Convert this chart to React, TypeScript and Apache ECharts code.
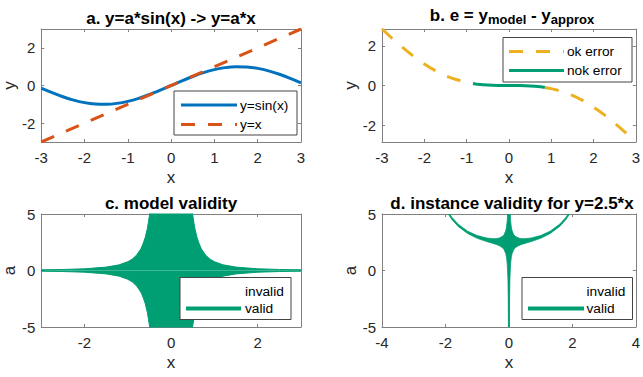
import React, { useEffect, useRef } from 'react';
import * as echarts from 'echarts';

// ---------- data ----------
// a. y = a*sin(x) -> y = a*x
const sinX = [-3, -2.75, -2.5, -2.25, -2, -1.75, -1.5, -1.25, -1, -0.75, -0.5, -0.25, 0, 0.25, 0.5, 0.75, 1, 1.25, 1.5, 1.75, 2, 2.25, 2.5, 2.75, 3];
const sinY = [-0.141, -0.382, -0.598, -0.778, -0.909, -0.984, -0.997, -0.949, -0.841, -0.682, -0.479, -0.247, 0, 0.247, 0.479, 0.682, 0.841, 0.949, 0.997, 0.984, 0.909, 0.778, 0.598, 0.382, 0.141];
const linX = [-3, 3];
const linY = [-3, 3];

// b. error e = y_model - y_approx
const okLeftX = [-3, -2.75, -2.5, -2.25, -2, -1.75, -1.5, -1.25, -1, -0.85];
const okLeftY = [2.859, 2.368, 1.902, 1.472, 1.091, 0.766, 0.503, 0.301, 0.159, 0.099];
const nokX = [-0.85, -0.75, -0.5, -0.25, 0, 0.25, 0.5, 0.75, 0.85];
const nokY = [0.099, 0.068, 0.021, 0.003, 0, -0.003, -0.021, -0.068, -0.099];
const okRightX = [0.85, 1, 1.25, 1.5, 1.75, 2, 2.25, 2.5, 2.75, 3];
const okRightY = [-0.099, -0.159, -0.301, -0.503, -0.766, -1.091, -1.472, -1.902, -2.368, -2.859];

// c. model validity (band of valid a)
const validX = [-3, -2.5, -2, -1.5, -1.2, -1, -0.9, -0.8, -0.7, -0.65, -0.6, -0.55, -0.525, -0.5, -0.45, -0.4, 0, 0.4, 0.45, 0.5, 0.525, 0.55, 0.6, 0.65, 0.7, 0.8, 0.9, 1, 1.2, 1.5, 2, 2.5, 3];
const validUpper = [0.06, 0.09, 0.15, 0.3, 0.5, 0.78, 1.0, 1.35, 1.9, 2.35, 2.9, 3.7, 4.25, 4.9, 6.6, 9.4, 12, 9.4, 6.6, 4.9, 4.25, 3.7, 2.9, 2.35, 1.9, 1.35, 1.0, 0.78, 0.5, 0.3, 0.15, 0.09, 0.06];
const validLower = [-0.06, -0.09, -0.15, -0.3, -0.5, -0.78, -1.0, -1.35, -1.9, -2.35, -2.9, -3.7, -4.25, -4.9, -6.6, -9.4, -12, -9.4, -6.6, -4.9, -4.25, -3.7, -2.9, -2.35, -1.9, -1.35, -1.0, -0.78, -0.5, -0.3, -0.15, -0.09, -0.06];

// d. instance validity for y = 2.5*x (band, symmetric in x)
const instX = [0.005, 0.01, 0.02, 0.03, 0.05, 0.075, 0.1, 0.15, 0.2, 0.3, 0.4, 0.5, 0.7, 1.0, 1.3, 1.6, 1.8, 2.0];
const instUpper = [22.5, 12.5, 7.5, 5.83, 4.5, 3.84, 3.51, 3.18, 3.02, 2.88, 2.82, 2.82, 2.87, 3.09, 3.48, 4.1, 4.72, 5.61];
const instLower = [-17.5, -7.5, -2.5, -0.83, 0.5, 1.17, 1.5, 1.84, 2.01, 2.2, 2.31, 2.4, 2.56, 2.85, 3.27, 3.9, 4.52, 5.39];
const spikeX = [0, 0];
const spikeY = [-5, 5];

// tick labels
const ticksA_X = [-3, -2, -1, 0, 1, 2, 3];
const ticksA_Y = [-2, 0, 2];
const ticksB_X = [-3, -2, -1, 0, 1, 2, 3];
const ticksB_Y = [-2, 0, 2];
const ticksC_X = [-2, 0, 2];
const ticksC_Y = [-5, 0, 5];
const ticksD_X = [-4, -2, 0, 2, 4];
const ticksD_Y = [-5, 0, 5];

// ---------- styling ----------
const FONT = '"Liberation Sans", Arial, Helvetica, sans-serif';
const BLUE = '#0072BD';
const ORANGE = '#D95319';
const YELLOW = '#EDB120';
const GREEN = '#009E73';
const AXIS = '#808080';
const TEXT = '#262626';
const DASH = [14, 13];

const zip = (xs: number[], ys: number[]) => xs.map((x, i) => [x, ys[i]]);

function axisPair(kind: 'x' | 'y', gridIndex: number, min: number, max: number, ticks: number[], name: string) {
  const main: any = {
    type: 'value',
    gridIndex,
    min,
    max,
    position: kind === 'x' ? 'bottom' : 'left',
    axisLine: { show: true, onZero: false, lineStyle: { color: AXIS, width: 1 } },
    axisTick: { show: true, inside: true, length: 3, customValues: ticks, lineStyle: { color: AXIS } },
    axisLabel: { customValues: ticks, color: TEXT, fontSize: 15, fontFamily: FONT, margin: kind === 'x' ? 8 : 6 },
    splitLine: { show: false },
    name,
    nameLocation: 'middle',
    nameGap: kind === 'x' ? 27 : 22,
    nameTextStyle: { fontSize: 17, color: TEXT, fontFamily: FONT },
  };
  const mirror: any = {
    type: 'value',
    gridIndex,
    min,
    max,
    position: kind === 'x' ? 'top' : 'right',
    axisLine: { show: true, onZero: false, lineStyle: { color: AXIS, width: 1 } },
    axisTick: { show: true, inside: true, length: 3, customValues: ticks, lineStyle: { color: AXIS } },
    axisLabel: { show: false },
    splitLine: { show: false },
  };
  return [main, mirror];
}

function legendBox(x: number, y: number, w: number, h: number) {
  return { type: 'rect', z: 100, shape: { x, y, width: w, height: h }, style: { fill: '#ffffff', stroke: '#444444', lineWidth: 1 } };
}
function legendLine(x1: number, x2: number, y: number, color: string, width: number, dash?: number[]) {
  return { type: 'line', z: 101, shape: { x1, y1: y, x2, y2: y }, style: { stroke: color, lineWidth: width, lineDash: dash || null } };
}
function legendText(x: number, y: number, text: string) {
  return { type: 'text', z: 101, x, y, style: { text, fill: '#000', fontSize: 13.7, fontFamily: FONT, align: 'left', verticalAlign: 'middle' } };
}
function titleText(x: number, y: number, text: string) {
  return { type: 'text', z: 101, x, y, style: { text, fill: '#000', fontSize: 17, fontWeight: 'bold', fontFamily: FONT, align: 'center', verticalAlign: 'middle' } };
}

export default function App() {
  const ref = useRef<HTMLDivElement>(null);
  useEffect(() => {
    if (!ref.current) return;
    const chart = echarts.init(ref.current, null, { renderer: 'svg' });

    const [ax, axT] = axisPair('x', 0, -3, 3, ticksA_X, 'x');
    const [bx, bxT] = axisPair('x', 1, -3, 3, ticksB_X, 'x');
    const [cx, cxT] = axisPair('x', 2, -3, 3, ticksC_X, 'x');
    const [dx, dxT] = axisPair('x', 3, -4, 4, ticksD_X, 'x');
    const [ay, ayT] = axisPair('y', 0, -3, 3, ticksA_Y, 'y');
    const [by, byT] = axisPair('y', 1, -2.859, 2.859, ticksB_Y, 'y');
    const [cy, cyT] = axisPair('y', 2, -5, 5, ticksC_Y, 'a');
    const [dy, dyT] = axisPair('y', 3, -5, 5, ticksD_Y, 'a');

    // polygon for panel d built from the read band (mirrored about x = 0)
    const n = instX.length;
    const poly: number[][] = [];
    for (let i = n - 1; i >= 0; i--) poly.push([-instX[i], instUpper[i]]);
    for (let i = 0; i < n; i++) poly.push([instX[i], instUpper[i]]);
    for (let i = n - 1; i >= 0; i--) poly.push([instX[i], instLower[i]]);
    for (let i = 0; i < n; i++) poly.push([-instX[i], instLower[i]]);

    const option: any = {
      animation: false,
      backgroundColor: '#ffffff',
      textStyle: { fontFamily: FONT },
      grid: [
        { left: 41, top: 29, width: 260, height: 113 },
        { left: 382, top: 29, width: 260, height: 113 },
        { left: 41, top: 214, width: 260, height: 113 },
        { left: 382, top: 214, width: 260, height: 113 },
      ],
      xAxis: [ax, bx, cx, dx, axT, bxT, cxT, dxT],
      yAxis: [ay, by, cy, dy, ayT, byT, cyT, dyT],
      series: [
        {
          name: 'y=sin(x)', type: 'line', xAxisIndex: 0, yAxisIndex: 0, data: zip(sinX, sinY),
          showSymbol: false, symbol: 'none', smooth: 0.3, lineStyle: { color: BLUE, width: 3 },
        },
        {
          name: 'y=x', type: 'line', xAxisIndex: 0, yAxisIndex: 0, data: zip(linX, linY),
          showSymbol: false, symbol: 'none', lineStyle: { color: ORANGE, width: 3, type: DASH },
        },
        {
          name: 'ok error', type: 'line', xAxisIndex: 1, yAxisIndex: 1, data: zip(okLeftX, okLeftY),
          showSymbol: false, symbol: 'none', smooth: 0.3, lineStyle: { color: YELLOW, width: 3, type: DASH },
        },
        {
          name: 'ok error', type: 'line', xAxisIndex: 1, yAxisIndex: 1, data: zip(okRightX, okRightY),
          showSymbol: false, symbol: 'none', smooth: 0.3, lineStyle: { color: YELLOW, width: 3, type: DASH },
        },
        {
          name: 'nok error', type: 'line', xAxisIndex: 1, yAxisIndex: 1, data: zip(nokX, nokY),
          showSymbol: false, symbol: 'none', smooth: 0.3, lineStyle: { color: GREEN, width: 3 },
        },
        {
          name: 'valid', type: 'line', xAxisIndex: 2, yAxisIndex: 2, data: zip(validX, validUpper),
          showSymbol: false, symbol: 'none', clip: true, lineStyle: { color: GREEN, width: 1 },
          areaStyle: { color: GREEN, opacity: 1, origin: 0 },
        },
        {
          name: 'valid', type: 'line', xAxisIndex: 2, yAxisIndex: 2, data: zip(validX, validLower),
          showSymbol: false, symbol: 'none', clip: true, lineStyle: { color: GREEN, width: 1 },
          areaStyle: { color: GREEN, opacity: 1, origin: 0 },
        },
        {
          name: 'valid', type: 'custom', xAxisIndex: 3, yAxisIndex: 3, clip: true,
          data: [[0, 0]],
          renderItem: (params: any, api: any) => {
            const cs = params.coordSys;
            const pts = poly.map((p) => api.coord(p));
            return {
              type: 'polygon',
              shape: { points: pts },
              style: { fill: GREEN, stroke: GREEN, lineWidth: 0.8 },
              clipPath: { type: 'rect', shape: { x: cs.x, y: cs.y, width: cs.width, height: cs.height } },
            };
          },
        },
        {
          name: 'valid', type: 'line', xAxisIndex: 3, yAxisIndex: 3, data: zip(spikeX, spikeY),
          showSymbol: false, symbol: 'none', lineStyle: { color: GREEN, width: 1.2 },
        },
      ],
      graphic: [
        titleText(171, 18, 'a. y=a*sin(x) -> y=a*x'),
        {
          type: 'text', z: 101, x: 512, y: 15,
          style: {
            text: '{n|b. e = y}{s|model}{n| - y}{s|approx}',
            fill: '#000', fontFamily: FONT, fontWeight: 'bold', align: 'center', verticalAlign: 'middle',
            rich: {
              n: { fontSize: 17, fontWeight: 'bold', fontFamily: FONT, lineHeight: 22, verticalAlign: 'middle', fill: '#000' },
              s: { fontSize: 13, fontWeight: 'bold', fontFamily: FONT, lineHeight: 10, verticalAlign: 'bottom', fill: '#000' },
            },
          },
        },
        titleText(171, 203, 'c. model validity'),
        titleText(512, 203, 'd. instance validity for y=2.5*x'),
        // legend a
        legendBox(174, 91, 123, 44),
        legendLine(181, 237, 105, BLUE, 3),
        legendText(240, 105, 'y=sin(x)'),
        legendLine(181, 237, 124.5, ORANGE, 3, DASH),
        legendText(240, 124.5, 'y=x'),
        // legend b
        legendBox(503, 37.5, 129, 44.5),
        legendLine(509, 564, 51.5, YELLOW, 3, DASH),
        legendText(567, 51.5, 'ok error'),
        legendLine(509, 564, 70.5, GREEN, 3),
        legendText(567, 70.5, 'nok error'),
        // legend c
        legendBox(180, 277.5, 111, 42),
        legendText(245, 291, 'invalid'),
        legendLine(186, 241, 308.5, GREEN, 4),
        legendText(245, 308.5, 'valid'),
        // legend d
        legendBox(522, 277.5, 110.5, 42),
        legendText(586.5, 291, 'invalid'),
        legendLine(528, 584, 308.5, GREEN, 4),
        legendText(586.5, 308.5, 'valid'),
      ],
    };
    chart.setOption(option);
    return () => chart.dispose();
  }, []);
  return <div ref={ref} style={{ position: 'fixed', left: 0, top: 0, width: 643, height: 377, background: '#fff' }} />;
}
